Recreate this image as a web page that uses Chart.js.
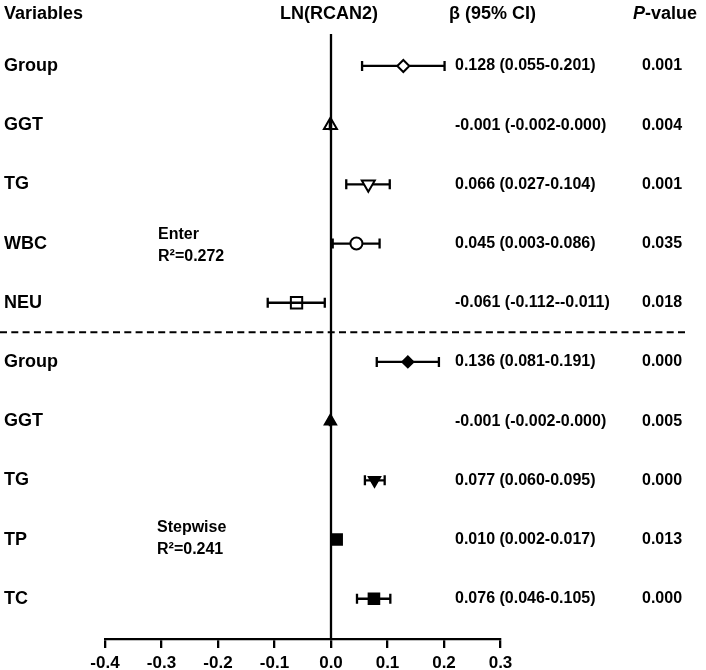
<!DOCTYPE html>
<html><head><meta charset="utf-8">
<script src="https://cdn.jsdelivr.net/npm/chart.js@4.4.1/dist/chart.umd.min.js"></script>
<style>html,body{margin:0;padding:0;background:#fff}#wrap{width:706px;height:670px;position:relative}</style>
</head><body><div id="wrap"><canvas id="c"></canvas></div>
<script>
const variables = ['Group','GGT','TG','WBC','NEU','Group','GGT','TG','TP','TC'];
const beta  = [0.128,-0.001,0.066,0.045,-0.061,0.136,-0.001,0.077,0.010,0.076];
const lower = [0.055,-0.002,0.027,0.003,-0.112,0.081,-0.002,0.060,0.002,0.046];
const upper = [0.201, 0.000,0.104,0.086,-0.011,0.191, 0.000,0.095,0.017,0.105];
const pValues = ['0.001','0.004','0.001','0.035','0.018','0.000','0.005','0.000','0.013','0.000'];
const xTicks = [-0.4,-0.3,-0.2,-0.1,0.0,0.1,0.2,0.3];
const models = [
  {name:'Enter', r2:'0.272'},
  {name:'Stepwise', r2:'0.241'}
];

const FONT = '"Liberation Sans", Arial, sans-serif';
const LW = 2.3;
const fmt3 = v => (Math.abs(v) < 1e-9 ? 0 : v).toFixed(3);
const ciText = beta.map((b,i) => `${fmt3(b)} (${fmt3(lower[i])}-${fmt3(upper[i])})`);

const forestPlugin = {
  id: 'forest',
  beforeDatasetsDraw(chart) {
    const {ctx, scales:{x, y}} = chart;
    ctx.save();
    ctx.strokeStyle = '#000'; ctx.lineWidth = LW; ctx.lineCap = 'butt';
    for (let i = 0; i < beta.length; i++) {
      const py = y.getPixelForValue(i);
      const x1 = x.getPixelForValue(lower[i]);
      const x2 = x.getPixelForValue(upper[i]);
      ctx.beginPath();
      ctx.moveTo(x1, py); ctx.lineTo(x2, py);
      ctx.moveTo(x1, py - 5); ctx.lineTo(x1, py + 5);
      ctx.moveTo(x2, py - 5); ctx.lineTo(x2, py + 5);
      ctx.stroke();
    }
    ctx.restore();
  },
  afterDatasetsDraw(chart) {
    const {ctx, chartArea, scales:{x, y}} = chart;
    ctx.save();
    ctx.strokeStyle = '#000'; ctx.lineWidth = LW;
    const x0 = x.getPixelForValue(0);
    ctx.beginPath(); ctx.moveTo(x0, chartArea.top); ctx.lineTo(x0, chartArea.bottom); ctx.stroke();
    const yd = y.getPixelForValue(4.5);
    ctx.lineWidth = 2;
    ctx.setLineDash([7, 4.3]);
    ctx.beginPath(); ctx.moveTo(0, yd); ctx.lineTo(686, yd); ctx.stroke();
    ctx.restore();
  },
  afterDraw(chart) {
    const {ctx, scales:{x, y}} = chart;
    ctx.save();
    ctx.fillStyle = '#000';
    ctx.textBaseline = 'middle';
    // headers
    ctx.font = `bold 18px ${FONT}`;
    ctx.textAlign = 'left';
    ctx.fillText('Variables', 4, 14);
    ctx.textAlign = 'center';
    ctx.fillText('LN(RCAN2)', x.getPixelForValue(0) - 2, 14);
    ctx.textAlign = 'left';
    ctx.fillText('β (95% CI)', 449, 14);
    ctx.font = `italic bold 18px ${FONT}`;
    ctx.fillText('P', 633, 14);
    const pw = ctx.measureText('P').width;
    ctx.font = `bold 18px ${FONT}`;
    ctx.fillText('-value', 633 + pw, 14);
    // rows
    ctx.font = `bold 16px ${FONT}`;
    for (let i = 0; i < beta.length; i++) {
      const py = y.getPixelForValue(i);
      ctx.fillText(ciText[i], 455, py);
      ctx.fillText(pValues[i], 642, py);
    }
    // model labels
    const modelPos = [[158, 235, 257], [157, 528, 550]];
    models.forEach((m, k) => {
      const [mx, y1, y2] = modelPos[k];
      ctx.fillText(m.name, mx, y1);
      ctx.fillText('R²=' + m.r2, mx, y2);
    });
    ctx.restore();
  }
};

new Chart(document.getElementById('c'), {
  type: 'scatter',
  data: {
    datasets: [{
      data: beta.map((b, i) => ({x: b, y: i})),
      pointStyle: ['rectRot','triangle','triangle','circle','rect','rectRot','triangle','triangle','rect','rect'],
      pointRotation: [0,0,180,0,0,0,0,180,0,0],
      pointRadius: [6,7.5,7.5,6,8,5.5,6.5,6.5,7.5,7.5],
      pointHoverRadius: [6,7.5,7.5,6,8,5.5,6.5,6.5,7.5,7.5],
      pointBackgroundColor: ['#fff','rgba(0,0,0,0)','#fff','#fff','rgba(0,0,0,0)','#000','#000','#000','#000','#000'],
      pointBorderColor: '#000',
      pointBorderWidth: 2,
      showLine: false
    }]
  },
  options: {
    responsive: true,
    maintainAspectRatio: false,
    animation: false,
    devicePixelRatio: 1,
    layout: {padding: {left: 4, top: 34, right: 205.5, bottom: 0}},
    plugins: {legend: {display: false}, tooltip: {enabled: false}},
    scales: {
      x: {
        type: 'linear',
        min: -0.4, max: 0.3,
        afterBuildTicks: s => { s.ticks = xTicks.map(v => ({value: v})); },
        afterFit: s => { s.height = 31; },
        ticks: {
          color: '#000',
          padding: 5,
          font: {family: FONT, size: 17, weight: 'bold'},
          callback: v => (Math.abs(v) < 1e-9 ? 0 : v).toFixed(1)
        },
        grid: {drawOnChartArea: false, drawTicks: true, tickLength: 9, color: '#000', lineWidth: LW},
        border: {display: true, color: '#000', width: LW}
      },
      y: {
        type: 'linear',
        reverse: true,
        min: -0.54, max: 9.68,
        afterBuildTicks: s => { s.ticks = variables.map((_, i) => ({value: i})); },
        afterFit: s => { s.width = 101; },
        ticks: {
          color: '#000',
          crossAlign: 'far',
          font: {family: FONT, size: 18, weight: 'bold'},
          callback: v => variables[v]
        },
        grid: {display: false, drawTicks: false},
        border: {display: false}
      }
    }
  },
  plugins: [forestPlugin]
});
</script>
</body></html>
